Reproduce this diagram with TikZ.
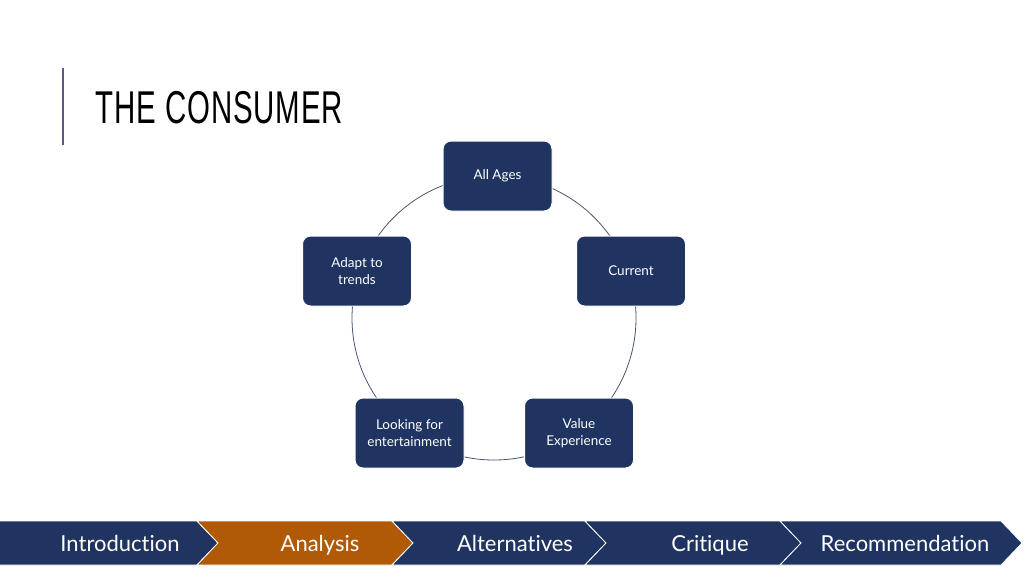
\documentclass[tikz,border=0pt]{standalone}
\usepackage{fontspec}
\setmainfont{Lato}[Ligatures={NoCommon}]
\newfontfamily\titlefont[FakeStretch=0.64,LetterSpace=2]{Liberation Sans}
\usetikzlibrary{positioning}
\definecolor{navy}{HTML}{1F3461}
\definecolor{rust}{HTML}{B05A08}
\definecolor{ringgray}{HTML}{4C5472}
\definecolor{barline}{HTML}{5A5A82}
\tikzset{
  ageboxes/.style={rectangle, rounded corners=8pt, fill=navy, draw=white, line width=1pt,
    minimum width=109pt, minimum height=70pt, align=center, text=white,
    font=\fontsize{13.5}{16.5}\selectfont},
  tablabel/.style={text=white, anchor=base, font=\fontsize{22}{24}\selectfont}
}
\begin{document}
\begin{tikzpicture}[x=1pt,y=-1pt]
\useasboundingbox (0,0) rectangle (1024,576);
\fill[white] (0,0) rectangle (1024,576);

% title
\draw[barline, line width=1.5pt] (63,68) -- (63,145);
\node[anchor=west, inner sep=0pt, font=\titlefont\fontsize{46}{46}\selectfont] (title) at (95,108) {THE CONSUMER};

% ring behind the boxes
\coordinate (hub) at (494,318);
\draw[ringgray, line width=0.8pt] (hub) circle (142);

\node[ageboxes] (ages) at (497.5,176) {All Ages};
\node[ageboxes] (current) at (631,271) {Current};
\node[ageboxes] (adapt) at (357,271) {Adapt to\\trends};
\node[ageboxes] (looking) at (409.5,433) {Looking for\\entertainment};
\node[ageboxes] (value) at (579,433) {Value\\Experience};

% chevron bar
\foreach \l/\r/\col in {-25/197/navy, 197/392/rust, 392/585/navy, 585/780/navy, 780/1001/navy}
  \filldraw[fill=\col, draw=white, line width=0.8pt]
    (\l,521) -- (\r,521) -- (\r+21,543) -- (\r,565) -- (\l,565) -- (\l+21,543) -- cycle;

\node[tablabel] (intro) at (120,551) {Introduction};
\node[tablabel] (analysis) at (320,551) {Analysis};
\node[tablabel] (alts) at (515,551) {Alternatives};
\node[tablabel] (critique) at (710,551) {Critique};
\node[tablabel] (recom) at (905,551) {Recommendation};
\end{tikzpicture}
\end{document}
